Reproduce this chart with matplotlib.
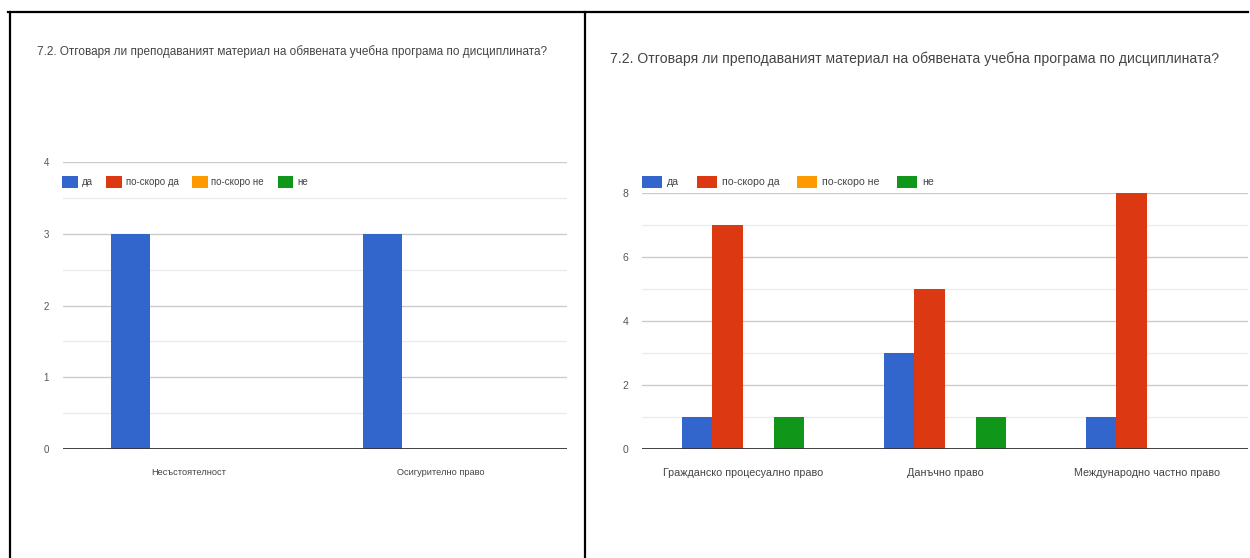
import numpy as np
import matplotlib.pyplot as plt
from matplotlib.lines import Line2D
from matplotlib.ticker import MultipleLocator

plt.rcParams['font.family'] = ['Liberation Sans', 'DejaVu Sans']

title = "7.2. Отговаря ли преподаваният материал на обявената учебна програма по дисциплината?"
series = ["да", "по-скоро да", "по-скоро не", "не"]
colors = ["#3366cc", "#dc3912", "#ff9900", "#109618"]

# left chart
left_cats = ["Несъстоятелност", "Осигурително право"]
left_vals = {
    "да": [3, 3],
    "по-скоро да": [0, 0],
    "по-скоро не": [0, 0],
    "не": [0, 0],
}

# right chart
right_cats = ["Гражданско процесуално право", "Данъчно право", "Международно частно право"]
right_vals = {
    "да": [1, 3, 1],
    "по-скоро да": [7, 5, 8],
    "по-скоро не": [0, 0, 0],
    "не": [1, 1, 0],
}

W, H = 1250, 558
fig = plt.figure(figsize=(W / 100, H / 100), dpi=100)


def px(x0, y0, x1, y1):
    # pixel box (top-left origin) -> figure fraction rect
    return [x0 / W, 1 - y1 / H, (x1 - x0) / W, (y1 - y0) / H]


def draw_chart(ax, cats, vals, width, ymax, major, fs_tick, fs_cat):
    x = np.arange(len(cats))
    handles = []
    for k, name in enumerate(series):
        b = ax.bar(x + (k - 1.5) * width, vals[name], width, color=colors[k],
                   label=name, zorder=3)
        handles.append(b)
    ax.set_xlim(-0.5, len(cats) - 0.5)
    ax.set_ylim(0, ymax)
    ax.yaxis.set_major_locator(MultipleLocator(major))
    ax.yaxis.set_minor_locator(MultipleLocator(major / 2))
    ax.grid(axis='y', which='major', color='#cccccc', lw=1, zorder=0)
    ax.grid(axis='y', which='minor', color='#ebebeb', lw=1, zorder=0)
    ax.axhline(0, color='#333333', lw=1.3, zorder=4)
    for s in ax.spines.values():
        s.set_visible(False)
    ax.set_xticks(x)
    ax.set_xticklabels(cats, fontsize=fs_cat, color='#444444')
    ax.tick_params(axis='x', length=0, pad=14)
    ax.tick_params(axis='y', which='both', length=0, pad=10,
                   labelsize=fs_tick, labelcolor='#555555')
    return handles


ax1 = fig.add_axes(px(63, 162, 567, 449))
h1 = draw_chart(ax1, left_cats, left_vals, 0.155, 4, 1, 7, 6.7)
ax1.legend(h1, series, loc='center left', bbox_to_anchor=(62 / W, 1 - 182 / H),
           bbox_transform=fig.transFigure, ncol=4, frameon=False, fontsize=7,
           handlelength=1.6, handleheight=1.5, handletextpad=0.4,
           columnspacing=1.4, borderpad=0, borderaxespad=0,
           labelcolor='#444444')

ax2 = fig.add_axes(px(642, 193, 1248, 449))
h2 = draw_chart(ax2, right_cats, right_vals, 0.151, 8, 2, 7.5, 7.75)
ax2.legend(h2, series, loc='center left', bbox_to_anchor=(642 / W, 1 - 182 / H),
           bbox_transform=fig.transFigure, ncol=4, frameon=False, fontsize=7.6,
           handlelength=1.9, handleheight=1.5, handletextpad=0.45,
           columnspacing=1.7, borderpad=0, borderaxespad=0,
           labelcolor='#444444')

fig.text(37 / W, 1 - 52 / H, title, fontsize=8.5, color='#444444',
         ha='left', va='center')
fig.text(610 / W, 1 - 59 / H, title, fontsize=10.05, color='#444444',
         ha='left', va='center')

# table borders of the document
for xs, ys in [((8, 1248), (12, 12)), ((10, 10), (12, 558)), ((585, 585), (12, 558))]:
    fig.add_artist(Line2D([v / W for v in xs], [1 - v / H for v in ys],
                          color='black', lw=1.6, transform=fig.transFigure))

fig.savefig("out.png", dpi=100)
